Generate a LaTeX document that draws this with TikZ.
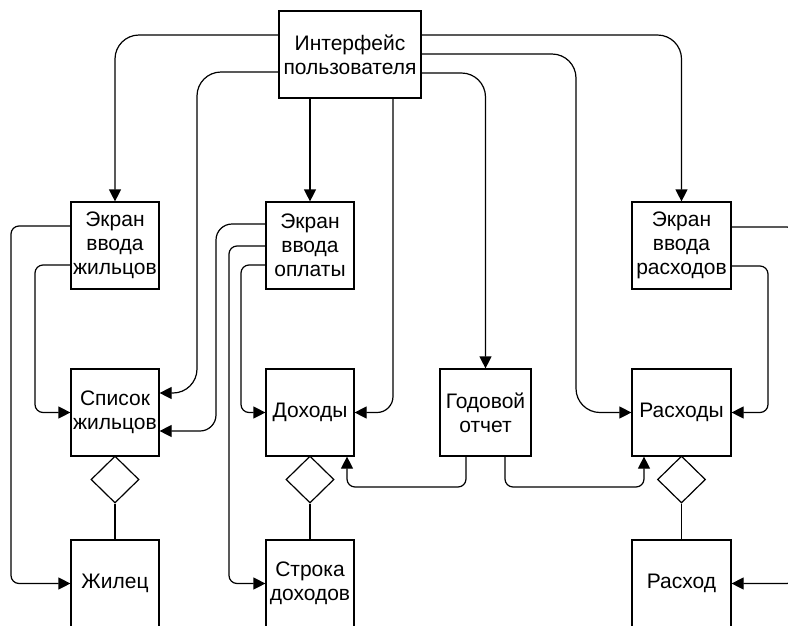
\documentclass[tikz,border=0pt]{standalone}
\usepackage{fontspec}
\setmainfont{Liberation Sans}
\usetikzlibrary{arrows.meta,shapes.geometric}
\begin{document}
\begin{tikzpicture}[x=1pt,y=-1pt,
 box/.style={draw, line width=1.2pt, minimum width=88pt, minimum height=87pt, inner sep=0pt, align=center, font=\fontsize{21}{24}\selectfont},
 dia/.style={draw, diamond, line width=1.2pt, minimum width=48pt, minimum height=47pt, inner sep=0pt},
 arr/.style={line width=1.2pt, -{Triangle[length=12pt,width=12pt]}},
 ln/.style={line width=1.2pt}]
\useasboundingbox (0,0) rectangle (788,625);
\clip (0,0) rectangle (788,625);
\node[box, minimum width=142pt] (ui) at (350,54.5) {Интерфейс\\пользователя};
\node[box] (sj) at (115,245.5) {Экран\\ввода\\жильцов};
\node[box] (so) at (310,245.5) {Экран\\ввода\\оплаты};
\node[box, minimum width=99pt] (sr) at (681.5,245.5) {Экран\\ввода\\расходов};
\node[box] (lj) at (115,412.5) {Список\\жильцов};
\node[box] (dx) at (310,412.5) {Доходы};
\node[box, minimum width=91pt] (gd) at (485.5,412.5) {Годовой\\отчет};
\node[box, minimum width=99pt] (rs) at (681.5,412.5) {Расходы};
\node[box] (zh) at (115,583.5) {Жилец};
\node[box] (st) at (310,583.5) {Строка\\доходов};
\node[box, minimum width=99pt] (rx) at (681.5,583.5) {Расход};
\node[dia] (d1) at (115,479.5) {};
\node[dia] (d2) at (310,479.5) {};
\node[dia] (d3) at (681.5,479.5) {};
\draw[ln] (d1.south) -- (zh.north);
\draw[ln] (d2.south) -- (st.north);
\draw[ln] (d3.south) -- (rx.north);
\draw[arr, rounded corners=24pt] (ui.west|-0,35) -| (sj.north);
\draw[arr, rounded corners=24pt] (ui.west|-0,72) -- (197,72) -- (197,393) -- (lj.east|-0,393);
\draw[arr] (so.north|-ui.south) -- (so.north);
\draw[arr, rounded corners=16pt] (ui.south-|393,0) -- (393,412.5) -- (dx.east);
\draw[arr, rounded corners=24pt] (ui.east|-0,35) -| (sr.north);
\draw[arr, rounded corners=24pt] (ui.east|-0,54) -- (576,54) -- (576,412.5) -- (rs.west);
\draw[arr, rounded corners=24pt] (ui.east|-0,73) -| (gd.north);
\draw[arr, rounded corners=8pt] (sj.west|-0,226) -- (11,226) -- (11,583.5) -- (zh.west);
\draw[arr, rounded corners=8pt] (sj.west|-0,265) -- (35,265) -- (35,412.5) -- (lj.west);
\draw[arr, rounded corners=16pt] (so.west|-0,224) -- (216,224) -- (216,431) -- (lj.east|-0,431);
\draw[arr, rounded corners=8pt] (so.west|-0,246) -- (229,246) -- (229,583.5) -- (st.west);
\draw[arr, rounded corners=8pt] (so.west|-0,265) -- (241,265) -- (241,412.5) -- (dx.west);
\draw[arr, rounded corners=8pt] (sr.east|-0,227) -- (795,227) -- (795,583.5) -- (rx.east);
\draw[arr, rounded corners=8pt] (sr.east|-0,266) -- (768,266) -- (768,412.5) -- (rs.east);
\draw[arr, rounded corners=8pt] (gd.south-|466,0) -- (466,487) -- (347,487) -- (dx.south-|347,0);
\draw[arr, rounded corners=8pt] (gd.south-|505,0) -- (505,487) -- (644,487) -- (rs.south-|644,0);
\end{tikzpicture}
\end{document}
